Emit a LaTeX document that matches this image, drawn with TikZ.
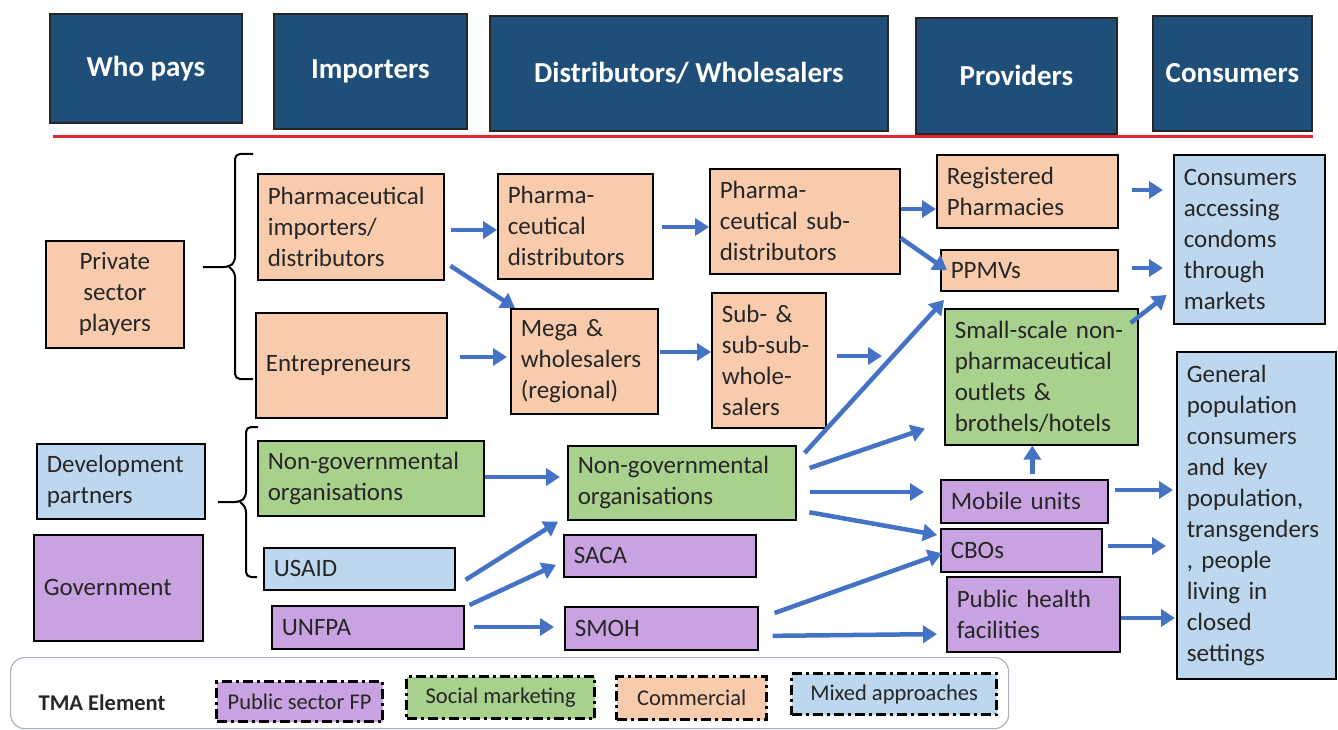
\documentclass[tikz,border=0pt]{standalone}
\usepackage{fontspec}
\setmainfont{Carlito}
\usepackage{tikz}
\usetikzlibrary{
  	positioning,
  	arrows.meta,
  	calc
  }

\definecolor{navyhead}{HTML}{1F4E79}
\definecolor{peachfill}{HTML}{F8CBAD}
\definecolor{greenfill}{HTML}{A9D18E}
\definecolor{bluefill}{HTML}{BDD7EE}
\definecolor{purplefill}{HTML}{C9A3E1}
\definecolor{flowblue}{HTML}{4472C4}
\definecolor{rulered}{HTML}{E3262B}
\definecolor{framegray}{HTML}{A9B3C1}
\definecolor{inkgray}{HTML}{262626}

\newcommand{\cardfont}{\fontsize{25}{31}\selectfont}
\newcommand{\hdrfont}{\bfseries\fontsize{29}{34}\selectfont}
\newcommand{\legfont}{\fontsize{22.5}{26}\selectfont}

\begin{document}
\begin{tikzpicture}[x=1pt, y=-1pt,
  card/.style={draw=black, line width=1.6pt, anchor=north west, inner xsep=10pt, inner ysep=0pt,
    align=left, font=\cardfont, text=inkgray},
  peach/.style={card, fill=peachfill},
  green/.style={card, fill=greenfill},
  lblue/.style={card, fill=bluefill},
  purple/.style={card, fill=purplefill},
  header/.style={draw=black!85, line width=1.8pt, fill=navyhead, text=white, font=\hdrfont,
    anchor=north west, align=center},
  swatch/.style={draw=black, line width=3.2pt, dash pattern=on 10pt off 4pt on 3pt off 4pt,
    anchor=north west, font=\legfont, text=inkgray, inner sep=0pt},
  flow/.style={draw=flowblue, line width=4.5pt, -{Triangle[length=14pt,width=17pt]}},
  bracel/.style={draw=black, line width=2pt, rounded corners=5pt}]
  \useasboundingbox (0,0) rectangle (1338,730);
%
  \node[header, minimum width=192pt, minimum height=109pt] (hpay) at (49,13) {Who pays};
  \node[header, minimum width=193pt, minimum height=115pt] (himp) at (273,13) {Importers};
  \node[header, minimum width=398pt, minimum height=115pt] (hdist) at (489,15) {Distributors/ Wholesalers};
  \node[header, minimum width=201pt, minimum height=116pt] (hprov) at (915,17) {Providers};
  \node[header, minimum width=159pt, minimum height=115pt] (hcons) at (1152,15) {Consumers};
  \draw[draw=rulered, line width=3pt] (53,137) -- (1313,137);
%
  \node[peach, align=center, text width=118pt, minimum height=107pt] (priv) at (45,240) {Private\\sector\\players};
  \node[lblue, text width=148pt, minimum height=75pt] (devp) at (36,443) {Development\\partners};
  \node[purple, text width=149pt, minimum height=106pt] (govt) at (33,534) {Government};
%
  \draw[bracel] (253,154) -- (235,154) -- (235,262) -- (229,267) -- (203,267);
  \draw[bracel] (229,267) -- (235,272) -- (235,379) -- (253,379);
  \draw[bracel] (258,427) -- (246,427) -- (246,497) -- (240,502) -- (218,502);
  \draw[bracel] (240,502) -- (246,507) -- (246,577) -- (257,577);
%
  \node[peach, text width=166pt, minimum height=106pt] (pimp) at (257,173) {Pharmaceutical\\importers/\\distributors};
  \node[peach, text width=171pt, minimum height=105pt] (entr) at (255,312) {Entrepreneurs};
  \node[green, text width=206pt, minimum height=75pt] (ngo1) at (257,440) {Non-governmental\\organisations};
  \node[lblue, text width=171pt, minimum height=42pt] (usaid) at (263,547) {USAID};
  \node[purple, text width=172pt, minimum height=43pt] (unfpa) at (271,605) {UNFPA};
%
  \node[peach, text width=135pt, minimum height=105pt] (pdist) at (497,173) {Pharma-\\ceutical\\distributors};
  \node[peach, text width=127pt, minimum height=105pt] (mega) at (510,308) {Mega \&\\wholesalers\\(regional)};
  \node[green, text width=208pt, minimum height=74pt] (ngo2) at (567,445) {Non-governmental\\organisations};
  \node[purple, text width=172pt, minimum height=42pt] (saca) at (563,534) {SACA};
  \node[purple, text width=173pt, minimum height=43pt] (smoh) at (564,606) {SMOH};
%
  \node[peach, text width=170pt, minimum height=105pt] (psub) at (709,168) {Pharma-\\ceutical sub-\\distributors};
  \node[peach, text width=94pt, minimum height=135pt] (subw) at (711,292) {Sub- \&\\sub-sub-\\whole-\\salers};
%
  \node[peach, text width=161pt, minimum height=73pt] (regph) at (936,154) {Registered\\Pharmacies};
  \node[peach, text width=157pt, minimum height=41pt] (ppmv) at (940,249) {PPMVs};
  \node[green, text width=173pt, minimum height=136pt] (small) at (944,308) {\mbox{Small-scale non-}\\pharmaceutical\\outlets \&\\brothels/hotels};
  \node[purple, text width=147pt, minimum height=43pt] (mobile) at (940,479) {Mobile units};
  \node[purple, text width=141pt, minimum height=43pt] (cbo) at (940,528) {CBOs};
  \node[purple, text width=153pt, minimum height=75pt] (phf) at (946,576) {Public health\\facilities};
%
  \node[lblue, text width=131pt, minimum height=169pt] (cmkt) at (1173,154) {Consumers\\accessing\\condoms\\through\\markets};
  \node[lblue, text width=139pt, minimum height=327pt] (genpop) at (1176,351) {General\\population\\consumers\\and key\\population,\\\mbox{transgenders}\\, people\\living in\\closed\\settings};
%
  \coordinate (subend) at (882,356);
  \draw[flow, shorten <=6pt] (pimp.east |- 0,230) -- (pdist.west |- 0,230);
  \draw[flow, shorten <=7pt] (pimp.east |- 0,262) -- ([xshift=5pt]mega.north west);
  \draw[flow, shorten <=8pt] (pdist.east |- 0,227) -- (psub.west |- 0,227);
  \draw[flow, shorten <=12pt, shorten >=3pt] (entr.east |- 0,357) -- (mega.west |- 0,357);
  \draw[flow, shorten <=1pt] (mega.east |- 0,352) -- (subw.west |- 0,352);
  \draw[flow, shorten <=10pt] (subw.east |- 0,356) -- (subend);
  \draw[flow] (psub.east |- 0,209) -- (regph.west |- 0,209);
  \draw[flow] (psub.east |- 0,238) -- ([xshift=7pt]ppmv.west);
  \draw[flow, shorten <=13pt, shorten >=10pt] (regph.east |- 0,190) -- (cmkt.west |- 0,190);
  \draw[flow, shorten <=13pt, shorten >=10pt] (ppmv.east |- 0,268) -- (cmkt.west |- 0,268);
  \draw[flow, shorten >=8pt] ($(small.north east)+(-8,15)$) -- (cmkt.west |- 0,290);
%
  \draw[flow] ($(ngo2.north east)+(8,8)$) -- ([yshift=8pt]small.north west);
  \draw[flow] ($(ngo2.north east)+(13,23)$) -- ($(small.south west)+(-19,-17)$);
  \draw[flow, shorten <=13pt, shorten >=16pt] (ngo2.east |- 0,492) -- (mobile.west |- 0,492);
  \draw[flow, shorten <=13pt] (ngo2.east |- 0,510) -- ($(cbo.north west)+(-3,7)$);
  \draw[flow] ($(mobile.north)+(8,-5)$) -- ($(small.south)+(-9,0)$);
  \draw[flow, shorten <=6pt, shorten >=3pt] (mobile.east |- 0,490) -- (genpop.west |- 0,490);
  \draw[flow, shorten <=5pt, shorten >=10pt] (cbo.east |- 0,546) -- (genpop.west |- 0,546);
  \draw[flow, shorten >=1pt] (phf.east |- 0,618) -- (genpop.west |- 0,618);
%
  \draw[flow, shorten >=7pt] (ngo1.east |- 0,477) -- (ngo2.west |- 0,477);
  \draw[flow] ($(usaid.east)+(10,11)$) -- ($(ngo2.south west)+(-9,1)$);
  \draw[flow] ($(unfpa.north east)+(5,0)$) -- ($(saca.west)+(-7,9)$);
  \draw[flow, shorten <=9pt, shorten >=10pt] (unfpa.east |- 0,627) -- (smoh.west |- 0,627);
  \draw[flow] ($(smoh.north east)+(16,7)$) -- ($(cbo.west)+(2,3)$);
  \draw[flow, shorten <=14pt, shorten >=9pt] (smoh.east |- 0,636) -- (phf.west |- 0,634);
%
  \node[draw=framegray, line width=1.2pt, rounded corners=14pt, anchor=north west,
    minimum width=998pt, minimum height=71pt] (legend) at (10,657) {};
  \node[font=\bfseries\fontsize{22.5}{26}\selectfont, text=inkgray] (tma) at (102,703) {TMA Element};
  \node[swatch, fill=purplefill, minimum width=166pt, minimum height=40pt] (pubfp) at (215,680) {Public sector FP};
  \node[swatch, fill=greenfill, minimum width=188pt, minimum height=42pt] (socmk) at (405,675) {Social marketing};
  \node[swatch, fill=peachfill, minimum width=150pt, minimum height=43pt] (comm) at (615,675) {Commercial};
  \node[swatch, fill=bluefill, minimum width=205pt, minimum height=41pt] (mixd) at (790,672) {Mixed approaches};
\end{tikzpicture}
\end{document}
